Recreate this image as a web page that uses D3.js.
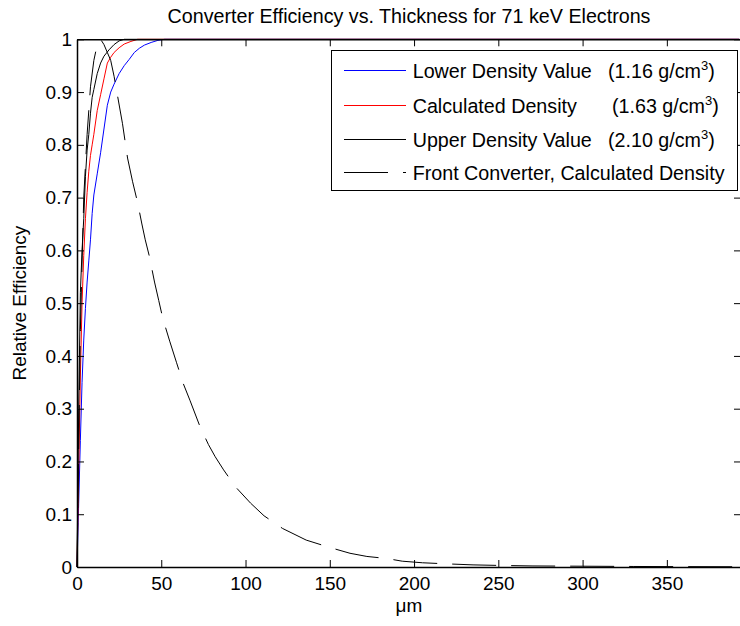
<!DOCTYPE html>
<html>
<head>
<meta charset="utf-8">
<script src="https://cdn.jsdelivr.net/npm/d3@7"></script>
<style>
  body { margin: 0; background: #fff; }
  svg { display: block; font-family: 'Liberation Sans', Arial, sans-serif; }
</style>
</head>
<body>
<svg width="740" height="626"></svg>
<script>
// thickness in um, relative efficiency
const lowerX = [0, 1, 2, 3, 4, 5, 6, 7, 8, 9, 10, 12, 14, 16, 18, 20, 22, 25, 28, 31, 34, 37, 40, 44, 48, 52, 393]
const lowerY = [0, 0.12, 0.24, 0.35, 0.43, 0.49, 0.54, 0.58, 0.62, 0.67, 0.705, 0.745, 0.785, 0.83, 0.875, 0.9, 0.915, 0.935, 0.95, 0.962, 0.975, 0.983, 0.989, 0.994, 0.998, 1, 1]

const calcX = [0, 1, 2, 3, 4, 5, 6, 7, 8, 9, 10, 12, 14, 16, 18, 20, 22, 25, 28, 32, 36, 393]
const calcY = [0, 0.18, 0.36, 0.5, 0.59, 0.66, 0.71, 0.75, 0.78, 0.8, 0.82, 0.865, 0.895, 0.925, 0.955, 0.966, 0.975, 0.984, 0.991, 0.996, 1, 1]

const upperX = [0, 1, 2, 3, 4, 5, 6, 7, 8, 9, 10, 12, 14, 16, 19, 22, 25, 28, 393]
const upperY = [0, 0.3, 0.52, 0.6, 0.66, 0.74, 0.79, 0.82, 0.86, 0.89, 0.905, 0.935, 0.955, 0.968, 0.98, 0.99, 0.997, 1, 1]

const frontX = [0, 2, 4, 6, 8, 10, 12, 14, 16, 18, 20, 22, 24.5, 27, 30, 33, 36, 38.5, 40.5, 43, 46, 48.5, 51, 55, 59, 63, 67, 73, 78, 82, 87, 94, 103, 111, 122, 136, 150, 162, 172, 184, 193, 205, 219, 235, 250, 270, 300, 330, 360, 393]
const frontY = [0, 0.45, 0.7, 0.82, 0.91, 0.96, 0.99, 1, 0.99, 0.975, 0.96, 0.93, 0.885, 0.84, 0.775, 0.73, 0.69, 0.65, 0.62, 0.588, 0.54, 0.505, 0.47, 0.428, 0.388, 0.348, 0.316, 0.266, 0.232, 0.209, 0.184, 0.152, 0.121, 0.097, 0.073, 0.051, 0.037, 0.026, 0.02, 0.016, 0.011, 0.008, 0.006, 0.004, 0.003, 0.002, 0.0015, 0.001, 0.0007, 0.0005]

const xTicks = [0, 50, 100, 150, 200, 250, 300, 350]
const yTicks = [0, 0.1, 0.2, 0.3, 0.4, 0.5, 0.6, 0.7, 0.8, 0.9, 1]
const yTickLabels = ['0', '0.1', '0.2', '0.3', '0.4', '0.5', '0.6', '0.7', '0.8', '0.9', '1']

const legendNames = ['Lower Density Value', 'Calculated Density', 'Upper Density Value', 'Front Converter, Calculated Density']
const legendDensity = ['1.16', '1.63', '2.10', null]

const series = [
  {xs: lowerX, ys: lowerY, color: '#0000ff', dash: null},
  {xs: calcX, ys: calcY, color: '#ff0000', dash: null},
  {xs: upperX, ys: upperY, color: '#000000', dash: null},
  {xs: frontX, ys: frontY, color: '#000000', dash: '44 15'}
]

const svg = d3.select('svg')
const box = {left: 77, right: 741, top: 39.3, bottom: 567}

const x = d3.scaleLinear().domain([0, 394]).range([box.left, box.right])
const y = d3.scaleLinear().domain([0, 1]).range([box.bottom, box.top])

const line = d3.line()
  .x(d => x(d[0]))
  .y(d => y(d[1]))

// curves
svg.append('g')
  .selectAll('path')
  .data(series)
  .enter()
  .append('path')
  .attr('d', d => line(d.xs.map((v, i) => [v, d.ys[i]])))
  .attr('fill', 'none')
  .attr('stroke', d => d.color)
  .attr('stroke-width', 1)
  .attr('stroke-dasharray', d => d.dash)

// axes, ticks inward, box on
const fontSize = 19
const styleAxis = g => {
  g.select('.domain').attr('stroke', '#000').attr('stroke-width', 1.5)
  g.selectAll('.tick line').attr('stroke', '#000')
  g.selectAll('.tick text').attr('fill', '#000').style('font-size', fontSize + 'px')
  g.attr('font-family', null)
}

svg.append('g')
  .attr('transform', 'translate(0,' + box.bottom + ')')
  .call(d3.axisBottom(x).tickValues(xTicks).tickSizeInner(-7).tickSizeOuter(0).tickPadding(10))
  .call(styleAxis)

svg.append('g')
  .attr('transform', 'translate(0,' + box.top + ')')
  .call(d3.axisTop(x).tickValues(xTicks).tickSizeInner(-7).tickSizeOuter(0).tickFormat(''))
  .call(styleAxis)

svg.append('g')
  .attr('transform', 'translate(' + box.left + ',0)')
  .call(d3.axisLeft(y).tickValues(yTicks).tickSizeInner(-7).tickSizeOuter(0).tickPadding(5)
    .tickFormat((d, i) => yTickLabels[i]))
  .call(styleAxis)

svg.append('g')
  .attr('transform', 'translate(' + box.right + ',0)')
  .call(d3.axisRight(y).tickValues(yTicks).tickSizeInner(-7).tickSizeOuter(0).tickFormat(''))
  .call(styleAxis)

// titles
svg.append('text')
  .attr('x', (box.left + box.right) / 2)
  .attr('y', 23)
  .attr('text-anchor', 'middle')
  .style('font-size', '19.7px')
  .text('Converter Efficiency vs. Thickness for 71 keV Electrons')

svg.append('text')
  .attr('x', (box.left + box.right) / 2)
  .attr('y', 612)
  .attr('text-anchor', 'middle')
  .style('font-size', fontSize + 'px')
  .text('\u03bcm')

svg.append('text')
  .attr('transform', 'translate(26,' + ((box.top + box.bottom) / 2) + ') rotate(-90)')
  .attr('text-anchor', 'middle')
  .style('font-size', fontSize + 'px')
  .text('Relative Efficiency')

// legend
const legend = svg.append('g')
legend.append('rect')
  .attr('x', 331.5)
  .attr('y', 50.5)
  .attr('width', 406)
  .attr('height', 140)
  .attr('fill', '#fff')
  .attr('stroke', '#000')
  .attr('stroke-width', 1)

const rowY = [70.5, 105.5, 139.5, 172.5]
const item = legend.selectAll('.item')
  .data(series)
  .enter()
  .append('g')
  .attr('class', 'item')
  .attr('transform', (d, i) => 'translate(0,' + rowY[i] + ')')

item.append('line')
  .attr('x1', 344)
  .attr('x2', 406)
  .attr('stroke', d => d.color)
  .attr('stroke-width', 1)
  .attr('stroke-dasharray', d => d.dash)

const label = item.append('text')
  .attr('y', 7)
  .style('font-size', '19.7px')

label.append('tspan')
  .attr('x', 412.7)
  .text((d, i) => legendNames[i])

label.filter((d, i) => legendDensity[i] !== null)
  .append('tspan')
  .attr('x', (d, i) => i === 1 ? 612 : 608)
  .text((d, i) => '(' + legendDensity[i] + ' g/cm')

label.filter((d, i) => legendDensity[i] !== null)
  .append('tspan')
  .attr('dy', -8)
  .style('font-size', '13px')
  .text('3')

label.filter((d, i) => legendDensity[i] !== null)
  .append('tspan')
  .attr('dy', 8)
  .text(')')
</script>
</body>
</html>
